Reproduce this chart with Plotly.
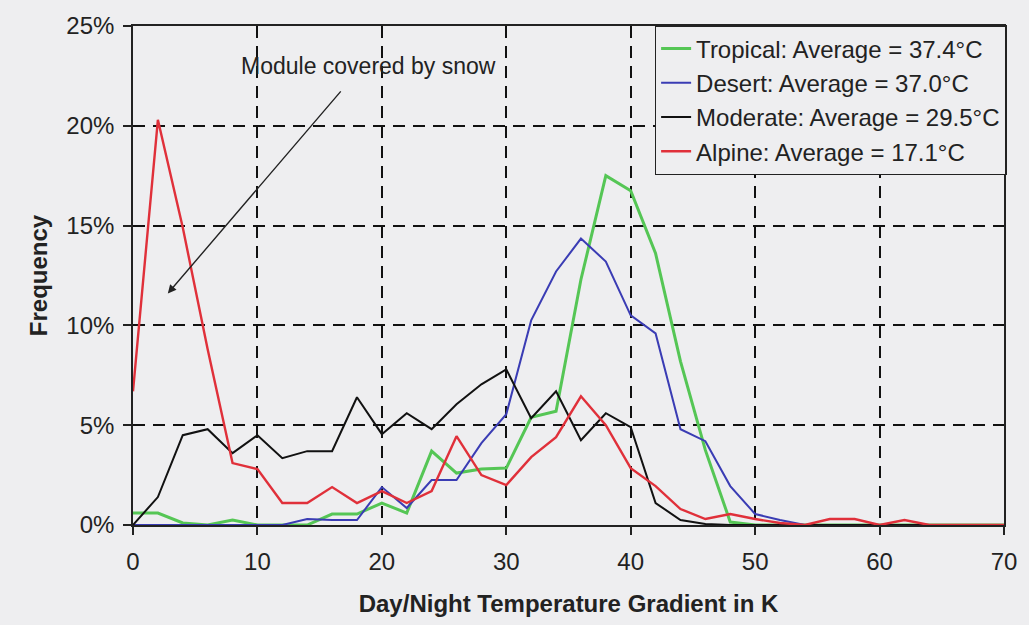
import plotly.graph_objects as go

gradient_k = [0, 2, 4, 6, 8, 10, 12, 14, 16, 18, 20, 22, 24, 26, 28, 30, 32, 34, 36, 38,
              40, 42, 44, 46, 48, 50, 52, 54, 56, 58, 60, 62, 64, 66, 68, 70]

tropical = [0.6, 0.6, 0.1, 0.0, 0.25, 0.0, 0.0, 0.0, 0.55, 0.55, 1.1, 0.6, 3.7, 2.6, 2.8, 2.85,
            5.4, 5.7, 12.3, 17.5, 16.75, 13.6, 8.2, 3.75, 0.15, 0.0, 0.0, 0.0, 0.0, 0.0,
            0.0, 0.0, 0.0, 0.0, 0.0, 0.0]
desert = [0.0, 0.0, 0.0, 0.0, 0.0, 0.0, 0.0, 0.3, 0.25, 0.25, 1.9, 0.85, 2.25, 2.25, 4.1, 5.55,
          10.25, 12.7, 14.35, 13.2, 10.5, 9.6, 4.8, 4.2, 1.95, 0.55, 0.25, 0.0, 0.0, 0.0,
          0.0, 0.0, 0.0, 0.0, 0.0, 0.0]
moderate = [0.0, 1.4, 4.5, 4.8, 3.6, 4.5, 3.35, 3.7, 3.7, 6.4, 4.55, 5.6, 4.8, 6.05, 7.05, 7.8,
            5.35, 6.7, 4.25, 5.6, 4.9, 1.1, 0.25, 0.05, 0.0, 0.0, 0.0, 0.0, 0.0, 0.0,
            0.0, 0.0, 0.0, 0.0, 0.0, 0.0]
alpine = [6.7, 20.3, 14.9, 8.8, 3.1, 2.8, 1.1, 1.1, 1.9, 1.1, 1.7, 1.1, 1.7, 4.45, 2.5, 2.0,
          3.4, 4.4, 6.45, 5.0, 2.85, 1.95, 0.8, 0.3, 0.55, 0.3, 0.1, 0.0, 0.3, 0.3,
          0.0, 0.25, 0.0, 0.0, 0.0, 0.0]

series_names = ["Tropical: Average = 37.4°C", "Desert: Average = 37.0°C",
                "Moderate: Average = 29.5°C", "Alpine: Average = 17.1°C"]
series_values = [tropical, desert, moderate, alpine]
series_colors = ["#55C655", "#3A3CB4", "#111111", "#E0303A"]
series_widths = [3.0, 2.0, 2.0, 2.4]

x_ticks = [0, 10, 20, 30, 40, 50, 60, 70]
x_tick_labels = ["0", "10", "20", "30", "40", "50", "60", "70"]
y_ticks = [0, 5, 10, 15, 20, 25]
y_tick_labels = ["0%", "5%", "10%", "15%", "20%", "25%"]

bg = "#EEEEF0"
font_family = "Liberation Sans, Arial, sans-serif"

fig = go.Figure()
for name, vals, col, w in zip(series_names, series_values, series_colors, series_widths):
    fig.add_trace(go.Scatter(x=gradient_k, y=vals, mode="lines", name=name,
                             line=dict(color=col, width=w)))

fig.add_annotation(x=2.8, y=11.6, ax=16.8, ay=21.8, xref="x", yref="y", axref="x", ayref="y",
                   text="", showarrow=True, arrowhead=2, arrowsize=1.2, arrowwidth=1.4,
                   arrowcolor="#222222")
fig.add_annotation(x=18.9, y=23.0, xref="x", yref="y", text="Module covered by snow",
                   showarrow=False, font=dict(family=font_family, size=23, color="#222222"))

fig.update_layout(
    width=1029, height=625,
    paper_bgcolor=bg, plot_bgcolor=bg,
    margin=dict(l=133, r=15, t=26, b=91),
    font=dict(family=font_family, size=24, color="#222222"),
    showlegend=True,
    legend=dict(x=1.003, y=1.002, xanchor="right", yanchor="top",
                bgcolor=bg, bordercolor="#222222", borderwidth=1.5,
                font=dict(family=font_family, size=24, color="#222222"),
                itemwidth=30),
    xaxis=dict(range=[0, 70], tickvals=x_ticks, ticktext=x_tick_labels, showgrid=True,
               gridcolor="#111111", griddash="12px,8px", gridwidth=1.6, showline=True,
               linecolor="#222222", linewidth=1.6, mirror=True, ticks="outside", ticklen=8,
               tickcolor="#222222", tickwidth=1.5, zeroline=False, ticklabelstandoff=6,
               title=dict(text="<b>Day/Night Temperature Gradient in K</b>",
                          font=dict(size=24), standoff=22),
               tickfont=dict(size=24)),
    yaxis=dict(range=[0, 25], tickvals=y_ticks, ticktext=y_tick_labels, showgrid=True,
               gridcolor="#111111", griddash="12px,8px", gridwidth=1.6, showline=True,
               linecolor="#222222", linewidth=1.6, mirror=True, ticks="outside",
               ticklen=8, tickcolor="#222222", tickwidth=1.5, zeroline=False,
               ticklabelstandoff=4,
               title=dict(text="<b>Frequency</b>", font=dict(size=24), standoff=12),
               tickfont=dict(size=24)),
)

fig.write_html(
    "out.html",
    config={"displayModeBar": False},
    post_script=(
        "document.documentElement.style.overflow='hidden';"
        "document.body.style.overflow='hidden';"
        "document.body.style.margin='0';"
        "document.body.style.background='#EEEEF0';"
    ),
)
